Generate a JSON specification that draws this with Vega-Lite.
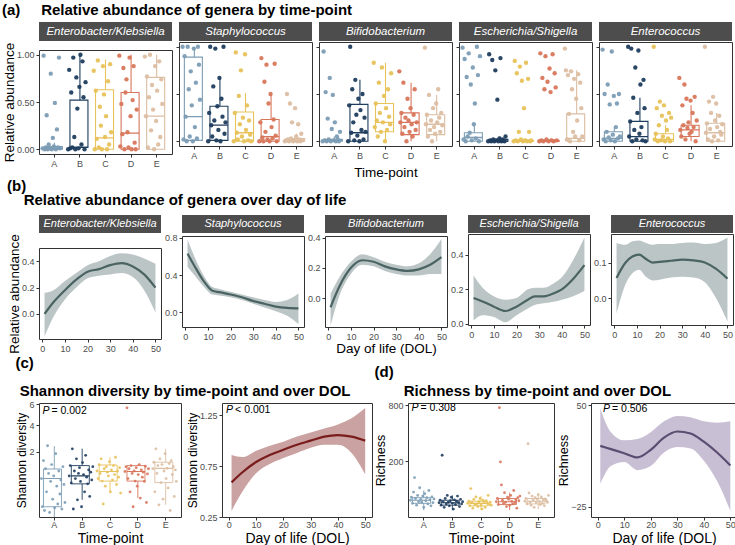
{
  "$schema": "https://vega.github.io/schema/vega-lite/v6.json",
  "background": "white",
  "padding": {"left": 1, "top": 3, "right": 0, "bottom": 0},
  "config": {
    "font": "Liberation Sans",
    "view": {"stroke": "#333333", "strokeWidth": 1},
    "axis": {"grid": false, "domain": false, "labelColor": "#4d4d4d", "labelFontSize": 9, "tickColor": "#333333", "tickSize": 3, "labelPadding": 2, "labelOverlap": false, "titleFontWeight": "normal", "titleColor": "#000000", "titleFontSize": 13.5},
    "axisX": {"labelAngle": 0},
    "axisY": {"titlePadding": 0},
    "title": {"fontSize": 15, "fontWeight": "bold", "anchor": "start", "color": "#000000", "offset": 4},
    "legend": {"disable": true},
    "range": {"category": ["#7c9db5", "#1f3d5e", "#e8c25a", "#d8765b", "#dcbea2"]}
  },
  "datasets": {
    "rs": [
      {"g":"EK","t":"A","lo":0,"q1":0,"md":0.01,"q3":0.03,"hi":0.07},
      {"g":"EK","t":"B","lo":0,"q1":0.02,"md":0.02,"q3":0.52,"hi":1.0},
      {"g":"EK","t":"C","lo":0,"q1":0,"md":0.12,"q3":0.63,"hi":0.95},
      {"g":"EK","t":"D","lo":0,"q1":0,"md":0.17,"q3":0.6,"hi":1.0},
      {"g":"EK","t":"E","lo":0,"q1":0,"md":0.35,"q3":0.76,"hi":1.0},
      {"g":"St","t":"A","lo":0,"q1":0.01,"md":0.26,"q3":0.89,"hi":1.0},
      {"g":"St","t":"B","lo":0,"q1":0.01,"md":0.17,"q3":0.37,"hi":0.67},
      {"g":"St","t":"C","lo":0,"q1":0,"md":0.09,"q3":0.31,"hi":0.51},
      {"g":"St","t":"D","lo":0,"q1":0,"md":0.05,"q3":0.23,"hi":0.5},
      {"g":"St","t":"E","lo":0,"q1":0,"md":0.01,"q3":0.03,"hi":0.08},
      {"g":"Bi","t":"A","lo":0,"q1":0,"md":0.01,"q3":0.02,"hi":0.05},
      {"g":"Bi","t":"B","lo":0,"q1":0,"md":0.09,"q3":0.39,"hi":0.65},
      {"g":"Bi","t":"C","lo":0,"q1":0.1,"md":0.2,"q3":0.4,"hi":0.83},
      {"g":"Bi","t":"D","lo":0,"q1":0.07,"md":0.2,"q3":0.3,"hi":0.62},
      {"g":"Bi","t":"E","lo":0,"q1":0.07,"md":0.18,"q3":0.28,"hi":0.49},
      {"g":"ES","t":"A","lo":0,"q1":0,"md":0.04,"q3":0.09,"hi":0.18},
      {"g":"ES","t":"B","lo":0,"q1":0,"md":0,"q3":0.02,"hi":0.05},
      {"g":"ES","t":"C","lo":0,"q1":0,"md":0,"q3":0.01,"hi":0.03},
      {"g":"ES","t":"D","lo":0,"q1":0,"md":0,"q3":0.01,"hi":0.03},
      {"g":"ES","t":"E","lo":0,"q1":0,"md":0.03,"q3":0.29,"hi":0.75},
      {"g":"En","t":"A","lo":0,"q1":0,"md":0.03,"q3":0.1,"hi":0.15},
      {"g":"En","t":"B","lo":0,"q1":0,"md":0.05,"q3":0.21,"hi":0.46},
      {"g":"En","t":"C","lo":0,"q1":0,"md":0.02,"q3":0.08,"hi":0.17},
      {"g":"En","t":"D","lo":0,"q1":0.05,"md":0.12,"q3":0.17,"hi":0.38},
      {"g":"En","t":"E","lo":0,"q1":0,"md":0.09,"q3":0.19,"hi":0.3}
    ],
    "ra": [
      {"g":"EK","t":"A","v":0.01},{"g":"EK","t":"A","v":0.99},{"g":"EK","t":"A","v":0.0},{"g":"EK","t":"A","v":0.02},{"g":"EK","t":"A","v":0.36},{"g":"EK","t":"A","v":0.0},{"g":"EK","t":"A","v":0.05},{"g":"EK","t":"A","v":0.01},{"g":"EK","t":"A","v":0.8},{"g":"EK","t":"A","v":0.0},{"g":"EK","t":"A","v":0.12},{"g":"EK","t":"A","v":0.03},{"g":"EK","t":"A","v":0.49},{"g":"EK","t":"A","v":0.0},{"g":"EK","t":"A","v":0.21},{"g":"EK","t":"A","v":0.02},{"g":"EK","t":"A","v":0.97},{"g":"EK","t":"A","v":0.01},
      {"g":"EK","t":"B","v":0.0},{"g":"EK","t":"B","v":0.84},{"g":"EK","t":"B","v":0.01},{"g":"EK","t":"B","v":0.6},{"g":"EK","t":"B","v":0.02},{"g":"EK","t":"B","v":0.97},{"g":"EK","t":"B","v":0.13},{"g":"EK","t":"B","v":0.0},{"g":"EK","t":"B","v":0.76},{"g":"EK","t":"B","v":0.43},{"g":"EK","t":"B","v":0.01},{"g":"EK","t":"B","v":0.66},{"g":"EK","t":"B","v":1.0},{"g":"EK","t":"B","v":0.05},{"g":"EK","t":"B","v":0.93},{"g":"EK","t":"B","v":0.55},{"g":"EK","t":"B","v":0.0},{"g":"EK","t":"B","v":0.71},
      {"g":"EK","t":"C","v":0.83},{"g":"EK","t":"C","v":0.0},{"g":"EK","t":"C","v":0.62},{"g":"EK","t":"C","v":0.11},{"g":"EK","t":"C","v":0.94},{"g":"EK","t":"C","v":0.02},{"g":"EK","t":"C","v":0.45},{"g":"EK","t":"C","v":0.25},{"g":"EK","t":"C","v":0.0},{"g":"EK","t":"C","v":0.88},{"g":"EK","t":"C","v":0.58},{"g":"EK","t":"C","v":0.13},{"g":"EK","t":"C","v":0.35},{"g":"EK","t":"C","v":0.0},{"g":"EK","t":"C","v":0.72},{"g":"EK","t":"C","v":0.05},{"g":"EK","t":"C","v":0.9},{"g":"EK","t":"C","v":0.18},
      {"g":"EK","t":"D","v":0.99},{"g":"EK","t":"D","v":0.03},{"g":"EK","t":"D","v":0.48},{"g":"EK","t":"D","v":0.16},{"g":"EK","t":"D","v":0.86},{"g":"EK","t":"D","v":0.0},{"g":"EK","t":"D","v":0.6},{"g":"EK","t":"D","v":0.74},{"g":"EK","t":"D","v":0.18},{"g":"EK","t":"D","v":0.02},{"g":"EK","t":"D","v":0.97},{"g":"EK","t":"D","v":0.35},{"g":"EK","t":"D","v":0.0},{"g":"EK","t":"D","v":0.52},{"g":"EK","t":"D","v":0.88},{"g":"EK","t":"D","v":0.07},{"g":"EK","t":"D","v":0.0},{"g":"EK","t":"D","v":0.42},
      {"g":"EK","t":"E","v":0.98},{"g":"EK","t":"E","v":0.35},{"g":"EK","t":"E","v":0.77},{"g":"EK","t":"E","v":0.02},{"g":"EK","t":"E","v":0.55},{"g":"EK","t":"E","v":1.0},{"g":"EK","t":"E","v":0.2},{"g":"EK","t":"E","v":0.68},{"g":"EK","t":"E","v":0.42},{"g":"EK","t":"E","v":0.0},{"g":"EK","t":"E","v":0.88},{"g":"EK","t":"E","v":0.3},{"g":"EK","t":"E","v":0.62},{"g":"EK","t":"E","v":0.05},{"g":"EK","t":"E","v":0.93},{"g":"EK","t":"E","v":0.13},{"g":"EK","t":"E","v":0.74},{"g":"EK","t":"E","v":0.48},
      {"g":"St","t":"A","v":1.0},{"g":"St","t":"A","v":0.02},{"g":"St","t":"A","v":0.9},{"g":"St","t":"A","v":0.26},{"g":"St","t":"A","v":0.0},{"g":"St","t":"A","v":1.0},{"g":"St","t":"A","v":0.55},{"g":"St","t":"A","v":0.05},{"g":"St","t":"A","v":0.74},{"g":"St","t":"A","v":0.38},{"g":"St","t":"A","v":0.0},{"g":"St","t":"A","v":0.98},{"g":"St","t":"A","v":0.15},{"g":"St","t":"A","v":0.62},{"g":"St","t":"A","v":0.03},{"g":"St","t":"A","v":1.0},{"g":"St","t":"A","v":0.81},{"g":"St","t":"A","v":0.44},
      {"g":"St","t":"B","v":0.0},{"g":"St","t":"B","v":0.3},{"g":"St","t":"B","v":1.0},{"g":"St","t":"B","v":0.17},{"g":"St","t":"B","v":0.05},{"g":"St","t":"B","v":0.58},{"g":"St","t":"B","v":0.22},{"g":"St","t":"B","v":0.98},{"g":"St","t":"B","v":0.01},{"g":"St","t":"B","v":0.37},{"g":"St","t":"B","v":0.12},{"g":"St","t":"B","v":0.67},{"g":"St","t":"B","v":0.0},{"g":"St","t":"B","v":0.45},{"g":"St","t":"B","v":0.26},{"g":"St","t":"B","v":1.0},{"g":"St","t":"B","v":0.08},{"g":"St","t":"B","v":0.2},
      {"g":"St","t":"C","v":0.0},{"g":"St","t":"C","v":0.3},{"g":"St","t":"C","v":0.94},{"g":"St","t":"C","v":0.09},{"g":"St","t":"C","v":0.02},{"g":"St","t":"C","v":0.48},{"g":"St","t":"C","v":0.18},{"g":"St","t":"C","v":0.75},{"g":"St","t":"C","v":0.05},{"g":"St","t":"C","v":0.25},{"g":"St","t":"C","v":0.0},{"g":"St","t":"C","v":0.92},{"g":"St","t":"C","v":0.12},{"g":"St","t":"C","v":0.38},{"g":"St","t":"C","v":0.01},{"g":"St","t":"C","v":0.22},{"g":"St","t":"C","v":0.07},{"g":"St","t":"C","v":0.0},
      {"g":"St","t":"D","v":0.0},{"g":"St","t":"D","v":0.2},{"g":"St","t":"D","v":0.88},{"g":"St","t":"D","v":0.04},{"g":"St","t":"D","v":0.0},{"g":"St","t":"D","v":0.63},{"g":"St","t":"D","v":0.1},{"g":"St","t":"D","v":0.81},{"g":"St","t":"D","v":0.02},{"g":"St","t":"D","v":0.4},{"g":"St","t":"D","v":0.0},{"g":"St","t":"D","v":0.5},{"g":"St","t":"D","v":0.15},{"g":"St","t":"D","v":0.03},{"g":"St","t":"D","v":0.23},{"g":"St","t":"D","v":0.82},{"g":"St","t":"D","v":0.06},{"g":"St","t":"D","v":0.0},
      {"g":"St","t":"E","v":0.0},{"g":"St","t":"E","v":0.01},{"g":"St","t":"E","v":0.5},{"g":"St","t":"E","v":0.02},{"g":"St","t":"E","v":0.0},{"g":"St","t":"E","v":0.4},{"g":"St","t":"E","v":0.03},{"g":"St","t":"E","v":0.2},{"g":"St","t":"E","v":0.0},{"g":"St","t":"E","v":0.01},{"g":"St","t":"E","v":0.35},{"g":"St","t":"E","v":0.05},{"g":"St","t":"E","v":0.0},{"g":"St","t":"E","v":0.18},{"g":"St","t":"E","v":0.02},{"g":"St","t":"E","v":0.0},{"g":"St","t":"E","v":0.08},{"g":"St","t":"E","v":0.01},
      {"g":"Bi","t":"A","v":0.0},{"g":"Bi","t":"A","v":0.95},{"g":"Bi","t":"A","v":0.01},{"g":"Bi","t":"A","v":0.52},{"g":"Bi","t":"A","v":0.0},{"g":"Bi","t":"A","v":0.24},{"g":"Bi","t":"A","v":0.02},{"g":"Bi","t":"A","v":0.67},{"g":"Bi","t":"A","v":0.0},{"g":"Bi","t":"A","v":0.13},{"g":"Bi","t":"A","v":0.49},{"g":"Bi","t":"A","v":0.01},{"g":"Bi","t":"A","v":0.2},{"g":"Bi","t":"A","v":0.0},{"g":"Bi","t":"A","v":0.05},{"g":"Bi","t":"A","v":0.02},{"g":"Bi","t":"A","v":0.0},{"g":"Bi","t":"A","v":0.1},
      {"g":"Bi","t":"B","v":0.0},{"g":"Bi","t":"B","v":0.38},{"g":"Bi","t":"B","v":1.0},{"g":"Bi","t":"B","v":0.09},{"g":"Bi","t":"B","v":0.55},{"g":"Bi","t":"B","v":0.2},{"g":"Bi","t":"B","v":0.01},{"g":"Bi","t":"B","v":0.65},{"g":"Bi","t":"B","v":0.28},{"g":"Bi","t":"B","v":0.06},{"g":"Bi","t":"B","v":0.45},{"g":"Bi","t":"B","v":0.0},{"g":"Bi","t":"B","v":0.33},{"g":"Bi","t":"B","v":0.12},{"g":"Bi","t":"B","v":0.5},{"g":"Bi","t":"B","v":0.02},{"g":"Bi","t":"B","v":0.25},{"g":"Bi","t":"B","v":0.1},
      {"g":"Bi","t":"C","v":0.83},{"g":"Bi","t":"C","v":0.15},{"g":"Bi","t":"C","v":0.4},{"g":"Bi","t":"C","v":0.22},{"g":"Bi","t":"C","v":0.05},{"g":"Bi","t":"C","v":0.62},{"g":"Bi","t":"C","v":0.3},{"g":"Bi","t":"C","v":0.1},{"g":"Bi","t":"C","v":0.78},{"g":"Bi","t":"C","v":0.2},{"g":"Bi","t":"C","v":0.48},{"g":"Bi","t":"C","v":0.0},{"g":"Bi","t":"C","v":0.35},{"g":"Bi","t":"C","v":0.12},{"g":"Bi","t":"C","v":0.55},{"g":"Bi","t":"C","v":0.26},{"g":"Bi","t":"C","v":0.18},{"g":"Bi","t":"C","v":0.72},
      {"g":"Bi","t":"D","v":0.74},{"g":"Bi","t":"D","v":0.2},{"g":"Bi","t":"D","v":0.3},{"g":"Bi","t":"D","v":0.08},{"g":"Bi","t":"D","v":0.62},{"g":"Bi","t":"D","v":0.15},{"g":"Bi","t":"D","v":0.25},{"g":"Bi","t":"D","v":0.0},{"g":"Bi","t":"D","v":0.45},{"g":"Bi","t":"D","v":0.22},{"g":"Bi","t":"D","v":0.1},{"g":"Bi","t":"D","v":0.35},{"g":"Bi","t":"D","v":0.18},{"g":"Bi","t":"D","v":0.05},{"g":"Bi","t":"D","v":0.28},{"g":"Bi","t":"D","v":0.55},{"g":"Bi","t":"D","v":0.12},{"g":"Bi","t":"D","v":0.2},
      {"g":"Bi","t":"E","v":0.99},{"g":"Bi","t":"E","v":0.18},{"g":"Bi","t":"E","v":0.28},{"g":"Bi","t":"E","v":0.05},{"g":"Bi","t":"E","v":0.49},{"g":"Bi","t":"E","v":0.12},{"g":"Bi","t":"E","v":0.22},{"g":"Bi","t":"E","v":0.0},{"g":"Bi","t":"E","v":0.35},{"g":"Bi","t":"E","v":0.15},{"g":"Bi","t":"E","v":0.08},{"g":"Bi","t":"E","v":0.4},{"g":"Bi","t":"E","v":0.2},{"g":"Bi","t":"E","v":0.55},{"g":"Bi","t":"E","v":0.25},{"g":"Bi","t":"E","v":0.1},{"g":"Bi","t":"E","v":0.3},{"g":"Bi","t":"E","v":0.17},
      {"g":"ES","t":"A","v":0.99},{"g":"ES","t":"A","v":0.02},{"g":"ES","t":"A","v":0.87},{"g":"ES","t":"A","v":0.0},{"g":"ES","t":"A","v":0.68},{"g":"ES","t":"A","v":0.05},{"g":"ES","t":"A","v":0.93},{"g":"ES","t":"A","v":0.09},{"g":"ES","t":"A","v":0.6},{"g":"ES","t":"A","v":0.01},{"g":"ES","t":"A","v":0.78},{"g":"ES","t":"A","v":0.18},{"g":"ES","t":"A","v":0.4},{"g":"ES","t":"A","v":0.03},{"g":"ES","t":"A","v":1.0},{"g":"ES","t":"A","v":0.7},{"g":"ES","t":"A","v":0.0},{"g":"ES","t":"A","v":0.9},
      {"g":"ES","t":"B","v":0.0},{"g":"ES","t":"B","v":0.92},{"g":"ES","t":"B","v":0.01},{"g":"ES","t":"B","v":0.0},{"g":"ES","t":"B","v":0.86},{"g":"ES","t":"B","v":0.02},{"g":"ES","t":"B","v":0.0},{"g":"ES","t":"B","v":0.75},{"g":"ES","t":"B","v":0.01},{"g":"ES","t":"B","v":0.44},{"g":"ES","t":"B","v":0.0},{"g":"ES","t":"B","v":0.03},{"g":"ES","t":"B","v":0.88},{"g":"ES","t":"B","v":0.0},{"g":"ES","t":"B","v":0.02},{"g":"ES","t":"B","v":0.01},{"g":"ES","t":"B","v":0.0},{"g":"ES","t":"B","v":0.05},
      {"g":"ES","t":"C","v":0.0},{"g":"ES","t":"C","v":0.85},{"g":"ES","t":"C","v":0.01},{"g":"ES","t":"C","v":0.72},{"g":"ES","t":"C","v":0.0},{"g":"ES","t":"C","v":0.1},{"g":"ES","t":"C","v":0.79},{"g":"ES","t":"C","v":0.02},{"g":"ES","t":"C","v":0.64},{"g":"ES","t":"C","v":0.0},{"g":"ES","t":"C","v":0.35},{"g":"ES","t":"C","v":0.01},{"g":"ES","t":"C","v":0.83},{"g":"ES","t":"C","v":0.0},{"g":"ES","t":"C","v":0.66},{"g":"ES","t":"C","v":0.1},{"g":"ES","t":"C","v":0.0},{"g":"ES","t":"C","v":0.01},
      {"g":"ES","t":"D","v":0.0},{"g":"ES","t":"D","v":0.93},{"g":"ES","t":"D","v":0.01},{"g":"ES","t":"D","v":0.67},{"g":"ES","t":"D","v":0.0},{"g":"ES","t":"D","v":0.55},{"g":"ES","t":"D","v":0.9},{"g":"ES","t":"D","v":0.02},{"g":"ES","t":"D","v":0.63},{"g":"ES","t":"D","v":0.0},{"g":"ES","t":"D","v":0.77},{"g":"ES","t":"D","v":0.52},{"g":"ES","t":"D","v":0.01},{"g":"ES","t":"D","v":0.92},{"g":"ES","t":"D","v":0.0},{"g":"ES","t":"D","v":0.72},{"g":"ES","t":"D","v":0.57},{"g":"ES","t":"D","v":0.01},
      {"g":"ES","t":"E","v":0.98},{"g":"ES","t":"E","v":0.75},{"g":"ES","t":"E","v":0.02},{"g":"ES","t":"E","v":0.7},{"g":"ES","t":"E","v":0.29},{"g":"ES","t":"E","v":0.0},{"g":"ES","t":"E","v":0.74},{"g":"ES","t":"E","v":0.55},{"g":"ES","t":"E","v":0.1},{"g":"ES","t":"E","v":0.66},{"g":"ES","t":"E","v":0.05},{"g":"ES","t":"E","v":0.45},{"g":"ES","t":"E","v":0.22},{"g":"ES","t":"E","v":0.71},{"g":"ES","t":"E","v":0.01},{"g":"ES","t":"E","v":0.62},{"g":"ES","t":"E","v":0.35},{"g":"ES","t":"E","v":0.05},
      {"g":"En","t":"A","v":0.97},{"g":"En","t":"A","v":0.02},{"g":"En","t":"A","v":0.5},{"g":"En","t":"A","v":0.0},{"g":"En","t":"A","v":0.1},{"g":"En","t":"A","v":0.6},{"g":"En","t":"A","v":0.04},{"g":"En","t":"A","v":0.39},{"g":"En","t":"A","v":0.01},{"g":"En","t":"A","v":0.95},{"g":"En","t":"A","v":0.07},{"g":"En","t":"A","v":0.48},{"g":"En","t":"A","v":0.0},{"g":"En","t":"A","v":0.15},{"g":"En","t":"A","v":0.4},{"g":"En","t":"A","v":0.03},{"g":"En","t":"A","v":0.5},{"g":"En","t":"A","v":0.05},
      {"g":"En","t":"B","v":1.0},{"g":"En","t":"B","v":0.05},{"g":"En","t":"B","v":0.21},{"g":"En","t":"B","v":0.98},{"g":"En","t":"B","v":0.0},{"g":"En","t":"B","v":0.46},{"g":"En","t":"B","v":0.12},{"g":"En","t":"B","v":0.78},{"g":"En","t":"B","v":0.02},{"g":"En","t":"B","v":0.3},{"g":"En","t":"B","v":0.96},{"g":"En","t":"B","v":0.08},{"g":"En","t":"B","v":0.6},{"g":"En","t":"B","v":0.15},{"g":"En","t":"B","v":0.01},{"g":"En","t":"B","v":0.65},{"g":"En","t":"B","v":0.35},{"g":"En","t":"B","v":0.0},
      {"g":"En","t":"C","v":1.0},{"g":"En","t":"C","v":0.02},{"g":"En","t":"C","v":0.08},{"g":"En","t":"C","v":0.35},{"g":"En","t":"C","v":0.0},{"g":"En","t":"C","v":0.17},{"g":"En","t":"C","v":0.42},{"g":"En","t":"C","v":0.01},{"g":"En","t":"C","v":0.27},{"g":"En","t":"C","v":0.05},{"g":"En","t":"C","v":0.38},{"g":"En","t":"C","v":0.0},{"g":"En","t":"C","v":0.22},{"g":"En","t":"C","v":0.12},{"g":"En","t":"C","v":0.03},{"g":"En","t":"C","v":0.3},{"g":"En","t":"C","v":0.0},{"g":"En","t":"C","v":0.25},
      {"g":"En","t":"D","v":0.67},{"g":"En","t":"D","v":0.12},{"g":"En","t":"D","v":0.05},{"g":"En","t":"D","v":0.38},{"g":"En","t":"D","v":0.17},{"g":"En","t":"D","v":0.6},{"g":"En","t":"D","v":0.02},{"g":"En","t":"D","v":0.45},{"g":"En","t":"D","v":0.14},{"g":"En","t":"D","v":0.2},{"g":"En","t":"D","v":0.08},{"g":"En","t":"D","v":0.43},{"g":"En","t":"D","v":0.1},{"g":"En","t":"D","v":0.3},{"g":"En","t":"D","v":0.15},{"g":"En","t":"D","v":0.47},{"g":"En","t":"D","v":0.0},{"g":"En","t":"D","v":0.22},
      {"g":"En","t":"E","v":1.0},{"g":"En","t":"E","v":0.09},{"g":"En","t":"E","v":0.19},{"g":"En","t":"E","v":0.02},{"g":"En","t":"E","v":0.42},{"g":"En","t":"E","v":0.13},{"g":"En","t":"E","v":0.3},{"g":"En","t":"E","v":0.0},{"g":"En","t":"E","v":0.47},{"g":"En","t":"E","v":0.05},{"g":"En","t":"E","v":0.22},{"g":"En","t":"E","v":0.4},{"g":"En","t":"E","v":0.15},{"g":"En","t":"E","v":0.01},{"g":"En","t":"E","v":0.27},{"g":"En","t":"E","v":0.1},{"g":"En","t":"E","v":0.07},{"g":"En","t":"E","v":0.18}
    ],
    "sm": [
      {"g":"EK","d":1,"f":0.0,"lo":-0.17,"hi":0.16},{"g":"EK","d":5,"f":0.09,"lo":-0.02,"hi":0.18},{"g":"EK","d":10,"f":0.18,"lo":0.11,"hi":0.25},{"g":"EK","d":15,"f":0.26,"lo":0.2,"hi":0.31},{"g":"EK","d":20,"f":0.32,"lo":0.27,"hi":0.37},{"g":"EK","d":25,"f":0.34,"lo":0.29,"hi":0.4},{"g":"EK","d":30,"f":0.37,"lo":0.3,"hi":0.44},{"g":"EK","d":35,"f":0.385,"lo":0.31,"hi":0.46},{"g":"EK","d":40,"f":0.36,"lo":0.28,"hi":0.45},{"g":"EK","d":45,"f":0.3,"lo":0.18,"hi":0.42},{"g":"EK","d":50,"f":0.2,"lo":0.01,"hi":0.38},
      {"g":"St","d":1,"f":0.63,"lo":0.49,"hi":0.78},{"g":"St","d":4,"f":0.5,"lo":0.4,"hi":0.6},{"g":"St","d":8,"f":0.34,"lo":0.28,"hi":0.4},{"g":"St","d":12,"f":0.23,"lo":0.19,"hi":0.27},{"g":"St","d":15,"f":0.215,"lo":0.18,"hi":0.25},{"g":"St","d":20,"f":0.19,"lo":0.16,"hi":0.22},{"g":"St","d":25,"f":0.16,"lo":0.13,"hi":0.19},{"g":"St","d":30,"f":0.12,"lo":0.09,"hi":0.16},{"g":"St","d":35,"f":0.09,"lo":0.05,"hi":0.13},{"g":"St","d":40,"f":0.06,"lo":0.01,"hi":0.11},{"g":"St","d":45,"f":0.045,"lo":-0.04,"hi":0.13},{"g":"St","d":50,"f":0.04,"lo":-0.13,"hi":0.2},
      {"g":"Bi","d":1,"f":-0.06,"lo":-0.18,"hi":0.03},{"g":"Bi","d":5,"f":0.08,"lo":0.02,"hi":0.14},{"g":"Bi","d":10,"f":0.2,"lo":0.16,"hi":0.24},{"g":"Bi","d":15,"f":0.25,"lo":0.22,"hi":0.29},{"g":"Bi","d":20,"f":0.24,"lo":0.21,"hi":0.27},{"g":"Bi","d":25,"f":0.21,"lo":0.18,"hi":0.24},{"g":"Bi","d":30,"f":0.19,"lo":0.16,"hi":0.22},{"g":"Bi","d":35,"f":0.18,"lo":0.15,"hi":0.21},{"g":"Bi","d":40,"f":0.19,"lo":0.15,"hi":0.23},{"g":"Bi","d":45,"f":0.22,"lo":0.16,"hi":0.29},{"g":"Bi","d":50,"f":0.27,"lo":0.16,"hi":0.39},
      {"g":"ES","d":1,"f":0.15,"lo":0.02,"hi":0.28},{"g":"ES","d":5,"f":0.13,"lo":0.05,"hi":0.21},{"g":"ES","d":10,"f":0.1,"lo":0.04,"hi":0.16},{"g":"ES","d":15,"f":0.075,"lo":0.01,"hi":0.14},{"g":"ES","d":20,"f":0.1,"lo":0.05,"hi":0.15},{"g":"ES","d":25,"f":0.14,"lo":0.09,"hi":0.2},{"g":"ES","d":28,"f":0.16,"lo":0.11,"hi":0.21},{"g":"ES","d":32,"f":0.16,"lo":0.12,"hi":0.21},{"g":"ES","d":37,"f":0.18,"lo":0.13,"hi":0.24},{"g":"ES","d":40,"f":0.2,"lo":0.14,"hi":0.27},{"g":"ES","d":45,"f":0.26,"lo":0.16,"hi":0.37},{"g":"ES","d":50,"f":0.34,"lo":0.19,"hi":0.5},
      {"g":"En","d":1,"f":0.057,"lo":-0.043,"hi":0.155},{"g":"En","d":5,"f":0.1,"lo":0.04,"hi":0.15},{"g":"En","d":8,"f":0.117,"lo":0.07,"hi":0.16},{"g":"En","d":11,"f":0.122,"lo":0.08,"hi":0.162},{"g":"En","d":14,"f":0.11,"lo":0.06,"hi":0.155},{"g":"En","d":17,"f":0.1,"lo":0.05,"hi":0.15},{"g":"En","d":20,"f":0.102,"lo":0.052,"hi":0.152},{"g":"En","d":25,"f":0.105,"lo":0.058,"hi":0.152},{"g":"En","d":30,"f":0.108,"lo":0.06,"hi":0.155},{"g":"En","d":35,"f":0.106,"lo":0.058,"hi":0.156},{"g":"En","d":40,"f":0.1,"lo":0.045,"hi":0.152},{"g":"En","d":45,"f":0.082,"lo":0.0,"hi":0.155},{"g":"En","d":50,"f":0.055,"lo":-0.065,"hi":0.17}
    ],
    "shs": [
      {"t":"A","lo":0.0,"q1":0.05,"md":0.7,"q3":1.09,"hi":2.37},
      {"t":"B","lo":0.14,"q1":0.52,"md":0.8,"q3":1.25,"hi":2.21},
      {"t":"C","lo":0.27,"q1":0.61,"md":0.98,"q3":1.28,"hi":1.69},
      {"t":"D","lo":0.17,"q1":0.61,"md":0.98,"q3":1.25,"hi":1.3},
      {"t":"E","lo":0.07,"q1":0.56,"md":1.12,"q3":1.42,"hi":2.21}
    ],
    "sh": [
      {"t":"A","v":0.7},{"t":"A","v":0.05},{"t":"A","v":1.5},{"t":"A","v":0.02},{"t":"A","v":1.1},{"t":"A","v":0.3},{"t":"A","v":2.4},{"t":"A","v":0.9},{"t":"A","v":0.01},{"t":"A","v":0.6},{"t":"A","v":1.3},{"t":"A","v":0.15},{"t":"A","v":0.8},{"t":"A","v":0.04},{"t":"A","v":1.9},{"t":"A","v":0.45},{"t":"A","v":0.08},{"t":"A","v":1.0},{"t":"A","v":0.25},{"t":"A","v":0.65},{"t":"A","v":0.03},{"t":"A","v":1.2},{"t":"A","v":0.5},{"t":"A","v":0.1},
      {"t":"B","v":0.8},{"t":"B","v":1.25},{"t":"B","v":0.55},{"t":"B","v":2.2},{"t":"B","v":0.03},{"t":"B","v":1.0},{"t":"B","v":0.7},{"t":"B","v":1.6},{"t":"B","v":0.14},{"t":"B","v":0.9},{"t":"B","v":1.15},{"t":"B","v":0.6},{"t":"B","v":0.05},{"t":"B","v":1.4},{"t":"B","v":0.85},{"t":"B","v":0.3},{"t":"B","v":1.8},{"t":"B","v":0.75},{"t":"B","v":0.52},{"t":"B","v":1.05},{"t":"B","v":0.2},{"t":"B","v":0.95},{"t":"B","v":0.65},{"t":"B","v":1.2},
      {"t":"C","v":1.0},{"t":"C","v":0.7},{"t":"C","v":1.3},{"t":"C","v":0.9},{"t":"C","v":1.6},{"t":"C","v":0.61},{"t":"C","v":0.08},{"t":"C","v":1.1},{"t":"C","v":0.45},{"t":"C","v":1.2},{"t":"C","v":0.95},{"t":"C","v":0.8},{"t":"C","v":1.45},{"t":"C","v":0.3},{"t":"C","v":1.05},{"t":"C","v":0.65},{"t":"C","v":1.25},{"t":"C","v":0.85},{"t":"C","v":1.69},{"t":"C","v":0.5},{"t":"C","v":1.0},{"t":"C","v":0.75},{"t":"C","v":1.15},{"t":"C","v":0.27},
      {"t":"D","v":0.98},{"t":"D","v":1.2},{"t":"D","v":5.64},{"t":"D","v":0.7},{"t":"D","v":1.1},{"t":"D","v":0.3},{"t":"D","v":1.25},{"t":"D","v":0.9},{"t":"D","v":0.05},{"t":"D","v":1.0},{"t":"D","v":0.61},{"t":"D","v":1.15},{"t":"D","v":0.45},{"t":"D","v":0.85},{"t":"D","v":1.3},{"t":"D","v":0.17},{"t":"D","v":1.05},{"t":"D","v":0.75},{"t":"D","v":0.95},{"t":"D","v":0.6},{"t":"D","v":1.22},{"t":"D","v":0.1},{"t":"D","v":0.88},{"t":"D","v":1.1},
      {"t":"E","v":1.1},{"t":"E","v":1.42},{"t":"E","v":0.3},{"t":"E","v":2.2},{"t":"E","v":0.9},{"t":"E","v":1.25},{"t":"E","v":0.07},{"t":"E","v":1.6},{"t":"E","v":0.56},{"t":"E","v":1.3},{"t":"E","v":0.15},{"t":"E","v":1.0},{"t":"E","v":1.9},{"t":"E","v":0.7},{"t":"E","v":1.12},{"t":"E","v":0.4},{"t":"E","v":1.35},{"t":"E","v":0.02},{"t":"E","v":1.5},{"t":"E","v":0.85},{"t":"E","v":1.2},{"t":"E","v":0.2},{"t":"E","v":1.05},{"t":"E","v":0.6}
    ],
    "shd": [
      {"d":1,"f":0.59,"lo":0.31,"hi":0.86},{"d":5,"f":0.69,"lo":0.5,"hi":0.84},{"d":10,"f":0.79,"lo":0.68,"hi":0.9},{"d":15,"f":0.86,"lo":0.77,"hi":0.95},{"d":20,"f":0.91,"lo":0.83,"hi":0.99},{"d":25,"f":0.96,"lo":0.88,"hi":1.04},{"d":30,"f":1.0,"lo":0.93,"hi":1.08},{"d":35,"f":1.04,"lo":0.96,"hi":1.12},{"d":40,"f":1.055,"lo":0.96,"hi":1.16},{"d":45,"f":1.04,"lo":0.88,"hi":1.22},{"d":50,"f":1.0,"lo":0.67,"hi":1.32}
    ],
    "ris": [
      {"t":"A","lo":3,"q1":12,"md":18,"q3":24,"hi":45},
      {"t":"B","lo":3,"q1":9,"md":13,"q3":18,"hi":30},
      {"t":"C","lo":3,"q1":8,"md":12,"q3":16,"hi":28},
      {"t":"D","lo":3,"q1":10,"md":15,"q3":22,"hi":38},
      {"t":"E","lo":4,"q1":11,"md":16,"q3":22,"hi":36}
    ],
    "ri": [
      {"t":"A","v":18},{"t":"A","v":25},{"t":"A","v":12},{"t":"A","v":40},{"t":"A","v":100},{"t":"A","v":22},{"t":"A","v":9},{"t":"A","v":30},{"t":"A","v":15},{"t":"A","v":55},{"t":"A","v":20},{"t":"A","v":14},{"t":"A","v":28},{"t":"A","v":6},{"t":"A","v":35},{"t":"A","v":17},{"t":"A","v":24},{"t":"A","v":11},{"t":"A","v":45},{"t":"A","v":19},{"t":"A","v":8},{"t":"A","v":26},{"t":"A","v":13},{"t":"A","v":21},
      {"t":"B","v":13},{"t":"B","v":18},{"t":"B","v":9},{"t":"B","v":245},{"t":"B","v":15},{"t":"B","v":6},{"t":"B","v":22},{"t":"B","v":11},{"t":"B","v":30},{"t":"B","v":14},{"t":"B","v":8},{"t":"B","v":17},{"t":"B","v":25},{"t":"B","v":12},{"t":"B","v":4},{"t":"B","v":19},{"t":"B","v":10},{"t":"B","v":16},{"t":"B","v":28},{"t":"B","v":13},{"t":"B","v":7},{"t":"B","v":20},{"t":"B","v":11},{"t":"B","v":15},
      {"t":"C","v":12},{"t":"C","v":16},{"t":"C","v":8},{"t":"C","v":52},{"t":"C","v":14},{"t":"C","v":5},{"t":"C","v":20},{"t":"C","v":10},{"t":"C","v":26},{"t":"C","v":11},{"t":"C","v":7},{"t":"C","v":15},{"t":"C","v":22},{"t":"C","v":9},{"t":"C","v":4},{"t":"C","v":18},{"t":"C","v":13},{"t":"C","v":6},{"t":"C","v":17},{"t":"C","v":12},{"t":"C","v":30},{"t":"C","v":10},{"t":"C","v":14},{"t":"C","v":9},
      {"t":"D","v":15},{"t":"D","v":22},{"t":"D","v":10},{"t":"D","v":768},{"t":"D","v":195},{"t":"D","v":66},{"t":"D","v":18},{"t":"D","v":12},{"t":"D","v":38},{"t":"D","v":14},{"t":"D","v":7},{"t":"D","v":25},{"t":"D","v":20},{"t":"D","v":9},{"t":"D","v":30},{"t":"D","v":16},{"t":"D","v":11},{"t":"D","v":45},{"t":"D","v":13},{"t":"D","v":19},{"t":"D","v":5},{"t":"D","v":24},{"t":"D","v":17},{"t":"D","v":28},
      {"t":"E","v":16},{"t":"E","v":22},{"t":"E","v":11},{"t":"E","v":345},{"t":"E","v":37},{"t":"E","v":14},{"t":"E","v":9},{"t":"E","v":28},{"t":"E","v":18},{"t":"E","v":6},{"t":"E","v":24},{"t":"E","v":13},{"t":"E","v":20},{"t":"E","v":32},{"t":"E","v":15},{"t":"E","v":10},{"t":"E","v":26},{"t":"E","v":12},{"t":"E","v":19},{"t":"E","v":8},{"t":"E","v":21},{"t":"E","v":17},{"t":"E","v":14},{"t":"E","v":30}
    ],
    "rid": [
      {"d":1,"f":19.9,"lo":-8,"hi":47.5},{"d":5,"f":17.5,"lo":5,"hi":30},{"d":10,"f":14.5,"lo":8,"hi":24},{"d":15,"f":11.4,"lo":2,"hi":25},{"d":20,"f":17,"lo":5,"hi":30},{"d":25,"f":26,"lo":15,"hi":38},{"d":30,"f":30.5,"lo":19,"hi":42},{"d":35,"f":29,"lo":18,"hi":41},{"d":40,"f":23,"lo":9,"hi":38},{"d":45,"f":15,"lo":-6,"hi":37},{"d":50,"f":5.5,"lo":-28,"hi":38}
    ]
  },
  "spacing": 0,
  "columns": 1,
  "align": "none",
  "concat": [
    {
      "title": {"text": "(a)\u00a0\u00a0\u00a0\u00a0\u00a0Relative abundance of genera by time-point"},
      "spacing": 2,
      "hconcat": [
        {"spacing": 0, "vconcat": [
          {"width": 133, "height": 19, "data": {"values": [{"g": "Enterobacter/Klebsiella"}]}, "layer": [{"mark": {"type": "rect", "color": "#4d4d4d"}, "encoding": {}}, {"mark": {"type": "text", "color": "white", "fontStyle": "italic", "fontSize": 11.5}, "encoding": {"text": {"field": "g"}}}]},
          {"width": 133, "height": 104, "data": {"name": "rs"}, "transform": [{"filter": "datum.g === 'EK'"}],
           "encoding": {"x": {"field": "t", "type": "nominal", "scale": {"paddingInner": 0, "paddingOuter": 0.1}, "axis": {"title": null}}},
           "layer": [
             {"mark": {"type": "rule", "strokeWidth": 1.1}, "encoding": {"y": {"field": "lo", "type": "quantitative", "scale": {"domain": [-0.05, 1.05], "nice": false}, "axis": {"values": [0, 0.25, 0.5, 0.75, 1], "format": ".2f", "title": "Relative abundance"}}, "y2": {"field": "hi"}, "color": {"field": "t", "type": "nominal"}}},
             {"mark": {"type": "bar", "width": {"band": 0.78}, "fill": "white", "strokeWidth": 1.1}, "encoding": {"y": {"field": "q1", "type": "quantitative"}, "y2": {"field": "q3"}, "stroke": {"field": "t", "type": "nominal"}}},
             {"mark": {"type": "bar", "width": {"band": 0.78}, "fillOpacity": 0, "strokeWidth": 1.3}, "encoding": {"y": {"field": "md", "type": "quantitative"}, "y2": {"field": "md"}, "stroke": {"field": "t", "type": "nominal"}}},
             {"data": {"name": "ra"}, "transform": [{"filter": "datum.g === 'EK'"}, {"window": [{"op": "row_number", "as": "i"}], "groupby": ["t"]}], "mark": {"type": "circle", "size": 19, "opacity": 0.95}, "encoding": {"xOffset": {"field": "i", "type": "nominal", "scale": {"paddingOuter": 1.6}}, "y": {"field": "v", "type": "quantitative"}, "color": {"field": "t", "type": "nominal"}}}
           ]}
        ]},
        {"spacing": 0, "vconcat": [
          {"width": 133, "height": 19, "data": {"values": [{"g": "Staphylococcus"}]}, "layer": [{"mark": {"type": "rect", "color": "#4d4d4d"}, "encoding": {}}, {"mark": {"type": "text", "color": "white", "fontStyle": "italic", "fontSize": 11.5}, "encoding": {"text": {"field": "g"}}}]},
          {"width": 133, "height": 104, "data": {"name": "rs"}, "transform": [{"filter": "datum.g === 'St'"}],
           "encoding": {"x": {"field": "t", "type": "nominal", "scale": {"paddingInner": 0, "paddingOuter": 0.1}, "axis": {"title": null}}},
           "layer": [
             {"mark": {"type": "rule", "strokeWidth": 1.1}, "encoding": {"y": {"field": "lo", "type": "quantitative", "scale": {"domain": [-0.05, 1.05], "nice": false}, "axis": {"values": [0, 0.25, 0.5, 0.75, 1], "labels": false, "title": null}}, "y2": {"field": "hi"}, "color": {"field": "t", "type": "nominal"}}},
             {"mark": {"type": "bar", "width": {"band": 0.78}, "fill": "white", "strokeWidth": 1.1}, "encoding": {"y": {"field": "q1", "type": "quantitative"}, "y2": {"field": "q3"}, "stroke": {"field": "t", "type": "nominal"}}},
             {"mark": {"type": "bar", "width": {"band": 0.78}, "fillOpacity": 0, "strokeWidth": 1.3}, "encoding": {"y": {"field": "md", "type": "quantitative"}, "y2": {"field": "md"}, "stroke": {"field": "t", "type": "nominal"}}},
             {"data": {"name": "ra"}, "transform": [{"filter": "datum.g === 'St'"}, {"window": [{"op": "row_number", "as": "i"}], "groupby": ["t"]}], "mark": {"type": "circle", "size": 19, "opacity": 0.95}, "encoding": {"xOffset": {"field": "i", "type": "nominal", "scale": {"paddingOuter": 1.6}}, "y": {"field": "v", "type": "quantitative"}, "color": {"field": "t", "type": "nominal"}}}
           ]}
        ]},
        {"spacing": 0, "vconcat": [
          {"width": 133, "height": 19, "data": {"values": [{"g": "Bifidobacterium"}]}, "layer": [{"mark": {"type": "rect", "color": "#4d4d4d"}, "encoding": {}}, {"mark": {"type": "text", "color": "white", "fontStyle": "italic", "fontSize": 11.5}, "encoding": {"text": {"field": "g"}}}]},
          {"width": 133, "height": 104, "data": {"name": "rs"}, "transform": [{"filter": "datum.g === 'Bi'"}],
           "encoding": {"x": {"field": "t", "type": "nominal", "scale": {"paddingInner": 0, "paddingOuter": 0.1}, "axis": {"title": "Time-point", "titlePadding": 5}}},
           "layer": [
             {"mark": {"type": "rule", "strokeWidth": 1.1}, "encoding": {"y": {"field": "lo", "type": "quantitative", "scale": {"domain": [-0.05, 1.05], "nice": false}, "axis": {"values": [0, 0.25, 0.5, 0.75, 1], "labels": false, "title": null}}, "y2": {"field": "hi"}, "color": {"field": "t", "type": "nominal"}}},
             {"mark": {"type": "bar", "width": {"band": 0.78}, "fill": "white", "strokeWidth": 1.1}, "encoding": {"y": {"field": "q1", "type": "quantitative"}, "y2": {"field": "q3"}, "stroke": {"field": "t", "type": "nominal"}}},
             {"mark": {"type": "bar", "width": {"band": 0.78}, "fillOpacity": 0, "strokeWidth": 1.3}, "encoding": {"y": {"field": "md", "type": "quantitative"}, "y2": {"field": "md"}, "stroke": {"field": "t", "type": "nominal"}}},
             {"data": {"name": "ra"}, "transform": [{"filter": "datum.g === 'Bi'"}, {"window": [{"op": "row_number", "as": "i"}], "groupby": ["t"]}], "mark": {"type": "circle", "size": 19, "opacity": 0.95}, "encoding": {"xOffset": {"field": "i", "type": "nominal", "scale": {"paddingOuter": 1.6}}, "y": {"field": "v", "type": "quantitative"}, "color": {"field": "t", "type": "nominal"}}}
           ]}
        ]},
        {"spacing": 0, "vconcat": [
          {"width": 133, "height": 19, "data": {"values": [{"g": "Escherichia/Shigella"}]}, "layer": [{"mark": {"type": "rect", "color": "#4d4d4d"}, "encoding": {}}, {"mark": {"type": "text", "color": "white", "fontStyle": "italic", "fontSize": 11.5}, "encoding": {"text": {"field": "g"}}}]},
          {"width": 133, "height": 104, "data": {"name": "rs"}, "transform": [{"filter": "datum.g === 'ES'"}],
           "encoding": {"x": {"field": "t", "type": "nominal", "scale": {"paddingInner": 0, "paddingOuter": 0.1}, "axis": {"title": null}}},
           "layer": [
             {"mark": {"type": "rule", "strokeWidth": 1.1}, "encoding": {"y": {"field": "lo", "type": "quantitative", "scale": {"domain": [-0.05, 1.05], "nice": false}, "axis": {"values": [0, 0.25, 0.5, 0.75, 1], "labels": false, "title": null}}, "y2": {"field": "hi"}, "color": {"field": "t", "type": "nominal"}}},
             {"mark": {"type": "bar", "width": {"band": 0.78}, "fill": "white", "strokeWidth": 1.1}, "encoding": {"y": {"field": "q1", "type": "quantitative"}, "y2": {"field": "q3"}, "stroke": {"field": "t", "type": "nominal"}}},
             {"mark": {"type": "bar", "width": {"band": 0.78}, "fillOpacity": 0, "strokeWidth": 1.3}, "encoding": {"y": {"field": "md", "type": "quantitative"}, "y2": {"field": "md"}, "stroke": {"field": "t", "type": "nominal"}}},
             {"data": {"name": "ra"}, "transform": [{"filter": "datum.g === 'ES'"}, {"window": [{"op": "row_number", "as": "i"}], "groupby": ["t"]}], "mark": {"type": "circle", "size": 19, "opacity": 0.95}, "encoding": {"xOffset": {"field": "i", "type": "nominal", "scale": {"paddingOuter": 1.6}}, "y": {"field": "v", "type": "quantitative"}, "color": {"field": "t", "type": "nominal"}}}
           ]}
        ]},
        {"spacing": 0, "vconcat": [
          {"width": 133, "height": 19, "data": {"values": [{"g": "Enterococcus"}]}, "layer": [{"mark": {"type": "rect", "color": "#4d4d4d"}, "encoding": {}}, {"mark": {"type": "text", "color": "white", "fontStyle": "italic", "fontSize": 11.5}, "encoding": {"text": {"field": "g"}}}]},
          {"width": 133, "height": 104, "data": {"name": "rs"}, "transform": [{"filter": "datum.g === 'En'"}],
           "encoding": {"x": {"field": "t", "type": "nominal", "scale": {"paddingInner": 0, "paddingOuter": 0.1}, "axis": {"title": null}}},
           "layer": [
             {"mark": {"type": "rule", "strokeWidth": 1.1}, "encoding": {"y": {"field": "lo", "type": "quantitative", "scale": {"domain": [-0.05, 1.05], "nice": false}, "axis": {"values": [0, 0.25, 0.5, 0.75, 1], "labels": false, "title": null}}, "y2": {"field": "hi"}, "color": {"field": "t", "type": "nominal"}}},
             {"mark": {"type": "bar", "width": {"band": 0.78}, "fill": "white", "strokeWidth": 1.1}, "encoding": {"y": {"field": "q1", "type": "quantitative"}, "y2": {"field": "q3"}, "stroke": {"field": "t", "type": "nominal"}}},
             {"mark": {"type": "bar", "width": {"band": 0.78}, "fillOpacity": 0, "strokeWidth": 1.3}, "encoding": {"y": {"field": "md", "type": "quantitative"}, "y2": {"field": "md"}, "stroke": {"field": "t", "type": "nominal"}}},
             {"data": {"name": "ra"}, "transform": [{"filter": "datum.g === 'En'"}, {"window": [{"op": "row_number", "as": "i"}], "groupby": ["t"]}], "mark": {"type": "circle", "size": 19, "opacity": 0.95}, "encoding": {"xOffset": {"field": "i", "type": "nominal", "scale": {"paddingOuter": 1.6}}, "y": {"field": "v", "type": "quantitative"}, "color": {"field": "t", "type": "nominal"}}}
           ]}
        ]}
      ]
    },
    {
      "title": {"text": ["(b)", "\u200b\u00a0\u00a0\u00a0\u00a0Relative abundance of genera over day of life"], "lineHeight": 14, "offset": 7},
      "spacing": 1,
      "hconcat": [
        {"spacing": 0, "vconcat": [
          {"width": 122, "height": 18, "data": {"values": [{"g": "Enterobacter/Klebsiella"}]}, "layer": [{"mark": {"type": "rect", "color": "#4d4d4d"}, "encoding": {}}, {"mark": {"type": "text", "color": "white", "fontStyle": "italic", "fontSize": 11}, "encoding": {"text": {"field": "g"}}}]},
          {"width": 122, "height": 91, "data": {"name": "sm"}, "transform": [{"filter": "datum.g === 'EK'"}],
           "encoding": {"x": {"field": "d", "type": "quantitative", "scale": {"domain": [-1.45, 52.45], "nice": false}, "axis": {"values": [0, 10, 20, 30, 40, 50], "title": null}}},
           "layer": [
             {"mark": {"type": "area", "color": "#bcc5c5", "interpolate": "monotone"}, "encoding": {"y": {"field": "lo", "type": "quantitative", "scale": {"domain": [-0.19, 0.5], "nice": false}, "axis": {"values": [0, 0.2, 0.4], "format": ".1f", "title": "Relative abundance"}}, "y2": {"field": "hi"}}},
             {"mark": {"type": "line", "color": "#4a6363", "strokeWidth": 2.2, "interpolate": "monotone"}, "encoding": {"y": {"field": "f", "type": "quantitative"}}}
           ]}
        ]},
        {"spacing": 0, "vconcat": [
          {"width": 122, "height": 18, "data": {"values": [{"g": "Staphylococcus"}]}, "layer": [{"mark": {"type": "rect", "color": "#4d4d4d"}, "encoding": {}}, {"mark": {"type": "text", "color": "white", "fontStyle": "italic", "fontSize": 11}, "encoding": {"text": {"field": "g"}}}]},
          {"width": 122, "height": 91, "data": {"name": "sm"}, "transform": [{"filter": "datum.g === 'St'"}],
           "encoding": {"x": {"field": "d", "type": "quantitative", "scale": {"domain": [-1.45, 52.45], "nice": false}, "axis": {"values": [0, 10, 20, 30, 40, 50], "title": null}}},
           "layer": [
             {"mark": {"type": "area", "color": "#bcc5c5", "interpolate": "monotone"}, "encoding": {"y": {"field": "lo", "type": "quantitative", "scale": {"domain": [-0.16, 0.82], "nice": false}, "axis": {"values": [0, 0.2, 0.4, 0.6, 0.8], "format": ".1f", "title": null}}, "y2": {"field": "hi"}}},
             {"mark": {"type": "line", "color": "#4a6363", "strokeWidth": 2.2, "interpolate": "monotone"}, "encoding": {"y": {"field": "f", "type": "quantitative"}}}
           ]}
        ]},
        {"spacing": 0, "vconcat": [
          {"width": 122, "height": 18, "data": {"values": [{"g": "Bifidobacterium"}]}, "layer": [{"mark": {"type": "rect", "color": "#4d4d4d"}, "encoding": {}}, {"mark": {"type": "text", "color": "white", "fontStyle": "italic", "fontSize": 11}, "encoding": {"text": {"field": "g"}}}]},
          {"width": 122, "height": 91, "data": {"name": "sm"}, "transform": [{"filter": "datum.g === 'Bi'"}],
           "encoding": {"x": {"field": "d", "type": "quantitative", "scale": {"domain": [-1.45, 52.45], "nice": false}, "axis": {"values": [0, 10, 20, 30, 40, 50], "title": "Day of life (DOL)", "titlePadding": 0}}},
           "layer": [
             {"mark": {"type": "area", "color": "#bcc5c5", "interpolate": "monotone"}, "encoding": {"y": {"field": "lo", "type": "quantitative", "scale": {"domain": [-0.19, 0.41], "nice": false}, "axis": {"values": [0, 0.2, 0.4], "format": ".1f", "title": null}}, "y2": {"field": "hi"}}},
             {"mark": {"type": "line", "color": "#4a6363", "strokeWidth": 2.2, "interpolate": "monotone"}, "encoding": {"y": {"field": "f", "type": "quantitative"}}}
           ]}
        ]},
        {"spacing": 0, "vconcat": [
          {"width": 122, "height": 18, "data": {"values": [{"g": "Escherichia/Shigella"}]}, "layer": [{"mark": {"type": "rect", "color": "#4d4d4d"}, "encoding": {}}, {"mark": {"type": "text", "color": "white", "fontStyle": "italic", "fontSize": 11}, "encoding": {"text": {"field": "g"}}}]},
          {"width": 122, "height": 91, "data": {"name": "sm"}, "transform": [{"filter": "datum.g === 'ES'"}],
           "encoding": {"x": {"field": "d", "type": "quantitative", "scale": {"domain": [-1.45, 52.45], "nice": false}, "axis": {"values": [0, 10, 20, 30, 40, 50], "title": null}}},
           "layer": [
             {"mark": {"type": "area", "color": "#bcc5c5", "interpolate": "monotone"}, "encoding": {"y": {"field": "lo", "type": "quantitative", "scale": {"domain": [-0.006, 0.52], "nice": false}, "axis": {"values": [0, 0.1, 0.2, 0.3, 0.4, 0.5], "format": ".1f", "title": null}}, "y2": {"field": "hi"}}},
             {"mark": {"type": "line", "color": "#4a6363", "strokeWidth": 2.2, "interpolate": "monotone"}, "encoding": {"y": {"field": "f", "type": "quantitative"}}}
           ]}
        ]},
        {"spacing": 0, "vconcat": [
          {"width": 122, "height": 18, "data": {"values": [{"g": "Enterococcus"}]}, "layer": [{"mark": {"type": "rect", "color": "#4d4d4d"}, "encoding": {}}, {"mark": {"type": "text", "color": "white", "fontStyle": "italic", "fontSize": 11}, "encoding": {"text": {"field": "g"}}}]},
          {"width": 122, "height": 91, "data": {"name": "sm"}, "transform": [{"filter": "datum.g === 'En'"}],
           "encoding": {"x": {"field": "d", "type": "quantitative", "scale": {"domain": [-1.45, 52.45], "nice": false}, "axis": {"values": [0, 10, 20, 30, 40, 50], "title": null}}},
           "layer": [
             {"mark": {"type": "area", "color": "#bcc5c5", "interpolate": "monotone"}, "encoding": {"y": {"field": "lo", "type": "quantitative", "scale": {"domain": [-0.075, 0.18], "nice": false}, "axis": {"values": [0, 0.1], "format": ".1f", "title": null}}, "y2": {"field": "hi"}}},
             {"mark": {"type": "line", "color": "#4a6363", "strokeWidth": 2.2, "interpolate": "monotone"}, "encoding": {"y": {"field": "f", "type": "quantitative"}}}
           ]}
        ]}
      ]
    },
    {
      "spacing": 1,
      "hconcat": [
        {
          "title": {"text": ["(c)", "\u200b\u00a0Shannon diversity by time-point and over DOL"], "lineHeight": 28, "offset": 1},
          "spacing": 3,
          "hconcat": [
            {"width": 142, "height": 114, "data": {"name": "shs"},
             "encoding": {"x": {"field": "t", "type": "nominal", "scale": {"paddingInner": 0, "paddingOuter": 0.05}, "axis": {"title": "Time-point", "titleFontSize": 14, "titlePadding": 2, "labelPadding": 0}}},
             "layer": [
               {"mark": {"type": "rule", "strokeWidth": 0.9}, "encoding": {"y": {"field": "lo", "type": "quantitative", "scale": {"type": "sqrt", "domain": [0, 6.15], "nice": false}, "axis": {"values": [2, 4, 6], "labelOverlap": false, "title": "Shannon diversity", "titleFontSize": 12}}, "y2": {"field": "hi"}, "color": {"field": "t", "type": "nominal"}}},
               {"mark": {"type": "bar", "width": {"band": 0.78}, "fill": "white", "strokeWidth": 0.9}, "encoding": {"y": {"field": "q1", "type": "quantitative"}, "y2": {"field": "q3"}, "stroke": {"field": "t", "type": "nominal"}}},
               {"mark": {"type": "bar", "width": {"band": 0.78}, "fillOpacity": 0, "strokeWidth": 1.1}, "encoding": {"y": {"field": "md", "type": "quantitative"}, "y2": {"field": "md"}, "stroke": {"field": "t", "type": "nominal"}}},
               {"data": {"name": "sh"}, "transform": [{"window": [{"op": "row_number", "as": "i"}], "groupby": ["t"]}], "mark": {"type": "circle", "size": 8, "opacity": 0.9}, "encoding": {"xOffset": {"field": "i", "type": "nominal", "scale": {"paddingOuter": 2.4}}, "y": {"field": "v", "type": "quantitative"}, "color": {"field": "t", "type": "nominal"}}},
               {"data": {"values": [{"t": "A", "v": 5.3, "p": "P", "q": "= 0.002"}]}, "mark": {"type": "text", "align": "left", "fontStyle": "italic", "fontSize": 10.5, "dx": 2}, "encoding": {"x": {"field": "t", "type": "nominal", "bandPosition": 0}, "y": {"field": "v", "type": "quantitative"}, "text": {"field": "p"}}},
               {"data": {"values": [{"t": "A", "v": 5.3, "p": "P", "q": "= 0.002"}]}, "mark": {"type": "text", "align": "left", "fontSize": 10.5, "dx": 11}, "encoding": {"x": {"field": "t", "type": "nominal", "bandPosition": 0}, "y": {"field": "v", "type": "quantitative"}, "text": {"field": "q"}}}
             ]},
            {"width": 150, "height": 114, "data": {"name": "shd"},
             "encoding": {"x": {"field": "d", "type": "quantitative", "scale": {"domain": [-2.5, 52.5], "nice": false}, "axis": {"values": [0, 10, 20, 30, 40, 50], "title": "Day of life (DOL)", "titleFontSize": 14, "titlePadding": 2, "labelPadding": 0}}},
             "layer": [
               {"mark": {"type": "area", "color": "#c9a2a1", "interpolate": "monotone"}, "encoding": {"y": {"field": "lo", "type": "quantitative", "scale": {"domain": [0.25, 1.37], "nice": false}, "axis": {"values": [0.25, 0.5, 0.75, 1, 1.25], "format": ".2f", "title": "Shannon diversity", "titleFontSize": 12}}, "y2": {"field": "hi"}}},
               {"mark": {"type": "line", "color": "#7a1c1c", "strokeWidth": 2.2, "interpolate": "monotone"}, "encoding": {"y": {"field": "f", "type": "quantitative"}}},
               {"data": {"values": [{"d": -1, "v": 1.3, "p": "P", "q": "< 0.001"}]}, "mark": {"type": "text", "align": "left", "fontStyle": "italic", "fontSize": 10.5}, "encoding": {"y": {"field": "v", "type": "quantitative"}, "text": {"field": "p"}}},
               {"data": {"values": [{"d": -1, "v": 1.3, "p": "P", "q": "< 0.001"}]}, "mark": {"type": "text", "align": "left", "fontSize": 10.5, "dx": 9}, "encoding": {"y": {"field": "v", "type": "quantitative"}, "text": {"field": "q"}}}
             ]}
          ]
        },
        {
          "title": {"text": ["(d)", "\u200b\u00a0\u00a0\u00a0\u00a0\u00a0\u00a0\u00a0Richness by time-point and over DOL"], "lineHeight": 19, "offset": 2},
          "spacing": 2,
          "hconcat": [
            {"width": 146, "height": 114, "data": {"name": "ris"},
             "encoding": {"x": {"field": "t", "type": "nominal", "scale": {"paddingInner": 0, "paddingOuter": 0.05}, "axis": {"title": "Time-point", "titleFontSize": 14, "titlePadding": 2, "labelPadding": 0}}},
             "layer": [
               {"mark": {"type": "rule", "strokeWidth": 0.9}, "encoding": {"y": {"field": "lo", "type": "quantitative", "scale": {"type": "sqrt", "domain": [0, 835], "nice": false}, "axis": {"values": [200, 400, 600, 800], "labelOverlap": false, "title": "Richness", "titleFontSize": 12.5}}, "y2": {"field": "hi"}, "color": {"field": "t", "type": "nominal"}}},
               {"mark": {"type": "bar", "width": {"band": 0.78}, "fill": "white", "strokeWidth": 0.9}, "encoding": {"y": {"field": "q1", "type": "quantitative"}, "y2": {"field": "q3"}, "stroke": {"field": "t", "type": "nominal"}}},
               {"mark": {"type": "bar", "width": {"band": 0.78}, "fillOpacity": 0, "strokeWidth": 1.1}, "encoding": {"y": {"field": "md", "type": "quantitative"}, "y2": {"field": "md"}, "stroke": {"field": "t", "type": "nominal"}}},
               {"data": {"name": "ri"}, "transform": [{"window": [{"op": "row_number", "as": "i"}], "groupby": ["t"]}], "mark": {"type": "circle", "size": 8, "opacity": 0.9}, "encoding": {"xOffset": {"field": "i", "type": "nominal", "scale": {"paddingOuter": 2.4}}, "y": {"field": "v", "type": "quantitative"}, "color": {"field": "t", "type": "nominal"}}},
               {"data": {"values": [{"t": "A", "v": 760, "p": "P", "q": "= 0.308"}]}, "mark": {"type": "text", "align": "left", "fontStyle": "italic", "fontSize": 10.5, "dx": 2}, "encoding": {"x": {"field": "t", "type": "nominal", "bandPosition": 0}, "y": {"field": "v", "type": "quantitative"}, "text": {"field": "p"}}},
               {"data": {"values": [{"t": "A", "v": 760, "p": "P", "q": "= 0.308"}]}, "mark": {"type": "text", "align": "left", "fontSize": 10.5, "dx": 11}, "encoding": {"x": {"field": "t", "type": "nominal", "bandPosition": 0}, "y": {"field": "v", "type": "quantitative"}, "text": {"field": "q"}}}
             ]},
            {"width": 146, "height": 114, "data": {"name": "rid"},
             "encoding": {"x": {"field": "d", "type": "quantitative", "scale": {"domain": [-2.5, 52.5], "nice": false}, "axis": {"values": [0, 10, 20, 30, 40, 50], "title": "Day of life (DOL)", "titleFontSize": 14, "titlePadding": 2, "labelPadding": 0}}},
             "layer": [
               {"mark": {"type": "area", "color": "#c8bfd4", "interpolate": "monotone"}, "encoding": {"y": {"field": "lo", "type": "quantitative", "scale": {"domain": [-32.5, 51.5], "nice": false}, "axis": {"values": [-25, 0, 25, 50], "title": "Richness", "titleFontSize": 12.5}}, "y2": {"field": "hi"}}},
               {"mark": {"type": "line", "color": "#5b4c72", "strokeWidth": 2.2, "interpolate": "monotone"}, "encoding": {"y": {"field": "f", "type": "quantitative"}}},
               {"data": {"values": [{"d": 2, "v": 47, "p": "P", "q": "= 0.506"}]}, "mark": {"type": "text", "align": "left", "fontStyle": "italic", "fontSize": 10.5}, "encoding": {"y": {"field": "v", "type": "quantitative"}, "text": {"field": "p"}}},
               {"data": {"values": [{"d": 2, "v": 47, "p": "P", "q": "= 0.506"}]}, "mark": {"type": "text", "align": "left", "fontSize": 10.5, "dx": 9}, "encoding": {"y": {"field": "v", "type": "quantitative"}, "text": {"field": "q"}}}
             ]}
          ]
        }
      ]
    }
  ]
}
